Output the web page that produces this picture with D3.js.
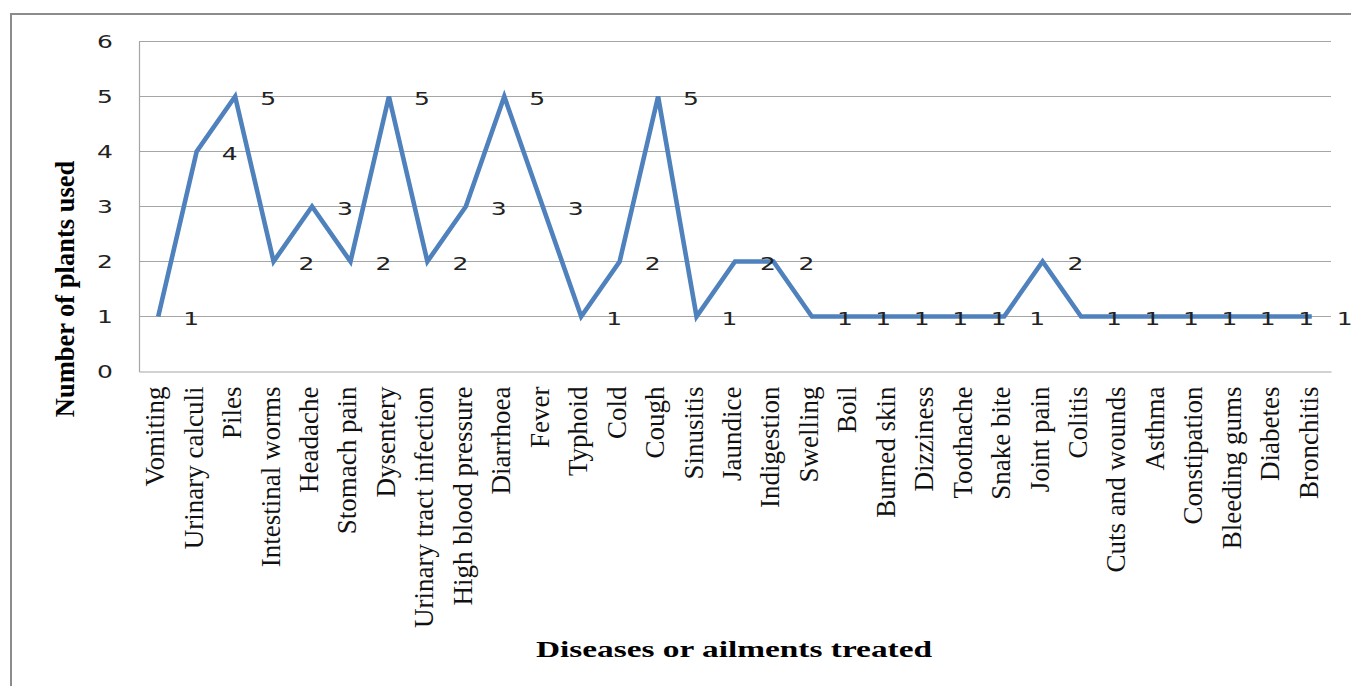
<!DOCTYPE html>
<html><head><meta charset="utf-8">
<script src="https://cdn.jsdelivr.net/npm/d3@7"></script>
<style>body{margin:0;background:#fff}svg{display:block}</style>
</head><body>
<svg id="c" width="1351" height="686"></svg>
<script>
const categories = ["Vomiting","Urinary calculi","Piles","Intestinal worms","Headache","Stomach pain","Dysentery","Urinary tract infection","High blood pressure","Diarrhoea","Fever","Typhoid","Cold","Cough","Sinusitis","Jaundice","Indigestion","Swelling","Boil","Burned skin","Dizziness","Toothache","Snake bite","Joint pain","Colitis","Cuts and wounds","Asthma","Constipation","Bleeding gums","Diabetes","Bronchitis"];
const values = [1,4,5,2,3,2,5,2,3,5,3,1,2,5,1,2,2,1,1,1,1,1,1,2,1,1,1,1,1,1,1];
const yTicks = [0,1,2,3,4,5,6];

(function(){
const svg = d3.select("#c");
const pLeft = 139, pRight = 1331, pTop = 41.5, pBottom = 371.5;
const numFont = "DejaVu Sans, sans-serif";
const serif = "Liberation Serif, Times New Roman, serif";

// outer frame
svg.append("rect").attr("x",11).attr("y",14).attr("width",1400).attr("height",700)
  .attr("fill","none").attr("stroke","#8c8c8c").attr("stroke-width",2);

const x = d3.scaleBand().domain(categories).range([pLeft,pRight]);
const y = d3.scaleLinear().domain([0,6]).range([pBottom,pTop]);

// gridlines
svg.append("g").selectAll("line").data(yTicks.filter(d=>d>0)).join("line")
  .attr("x1",pLeft).attr("x2",pRight).attr("y1",d=>y(d)).attr("y2",d=>y(d))
  .attr("stroke","#a6a6a6").attr("stroke-width",1.2);

// y axis
const ya = svg.append("g").attr("transform",`translate(${pLeft},0)`)
  .call(d3.axisLeft(y).tickValues(yTicks).tickSize(0).tickFormat(d3.format("d")));
ya.select(".domain").attr("stroke","#a6a6a6").attr("stroke-width",1.2);
ya.selectAll("text").attr("x",null).attr("dy",null)
  .attr("font-family",numFont).attr("font-size",18.5).attr("fill","#222")
  .attr("text-anchor","end").attr("dominant-baseline","central")
  .attr("transform","translate(-26,0) scale(1.35,1)");

// x axis
const xa = svg.append("g").attr("transform",`translate(0,${pBottom})`)
  .call(d3.axisBottom(x).tickSize(0).tickPadding(0));
xa.select(".domain").attr("stroke","#a6a6a6").attr("stroke-width",1.2);
xa.selectAll("text")
  .attr("font-family",serif).attr("font-size",27).attr("fill","#111")
  .attr("text-anchor","end").attr("transform","rotate(-90)")
  .attr("x",-15).attr("y",0).attr("dy","0.22em");

const cx = d => x(d) + x.bandwidth()/2;

// line
svg.append("path").datum(categories.map((c,i)=>[cx(c),y(values[i])]))
  .attr("d",d3.line()).attr("fill","none").attr("stroke","#4f81bd").attr("stroke-width",4.6)
  .attr("stroke-linejoin","miter");

// data labels
svg.append("g").selectAll("text").data(categories).join("text")
  .attr("transform",(d,i)=>`translate(${cx(d)+25},${y(values[i])+2}) scale(1.35,1)`)
  .attr("dominant-baseline","central")
  .attr("font-family",numFont).attr("font-size",18.5).attr("fill","#222")
  .text((d,i)=>values[i]);

// axis titles
svg.append("text").attr("transform","translate(74,289) rotate(-90)").attr("text-anchor","middle")
  .attr("font-family",serif).attr("font-weight","bold").attr("font-size",26.5)
  .text("Number of plants used");
svg.append("text").attr("x",536).attr("y",657)
  .attr("font-family",serif).attr("font-weight","bold").attr("font-size",24)
  .attr("textLength",396).attr("lengthAdjust","spacingAndGlyphs")
  .text("Diseases or ailments treated");
})();
</script>
</body></html>
